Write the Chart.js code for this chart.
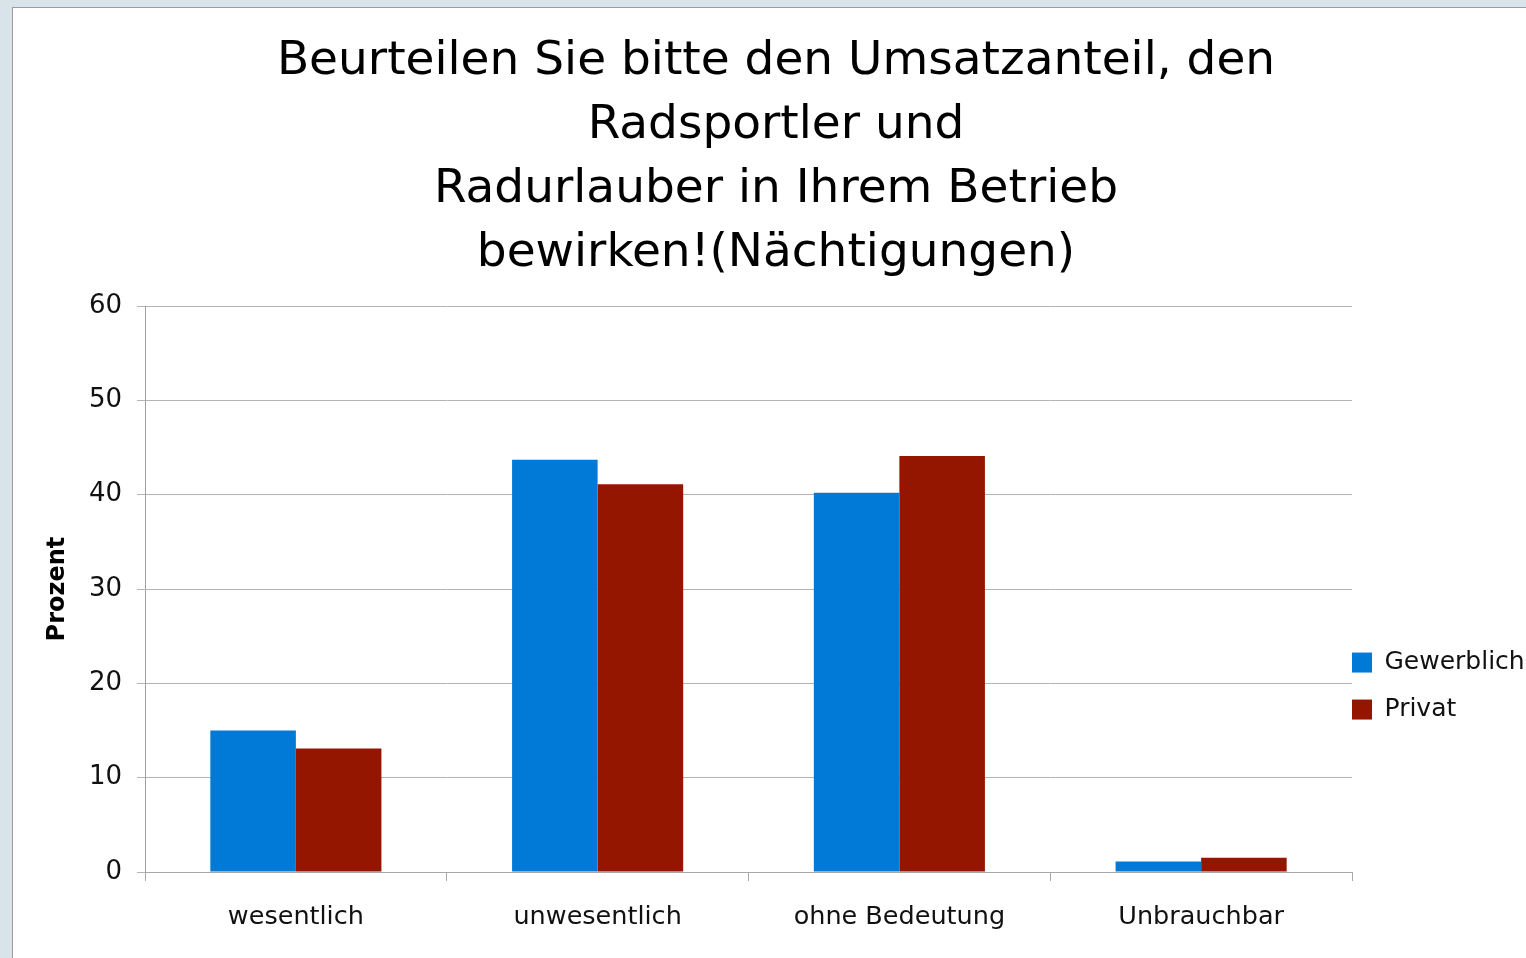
<!DOCTYPE html>
<html>
<head>
<meta charset="utf-8">
<script src="https://cdn.jsdelivr.net/npm/chart.js@4"></script>
<style>
  html, body { margin: 0; padding: 0; overflow: hidden; background: #d9e4ea; }
  body { width: 1526px; height: 958px; position: relative; }
  #panel {
    position: absolute; left: 12px; top: 7px; width: 1540px; height: 1000px;
    background: #fff; border: 1px solid #9c9c9c;
  }
  #chart { position: absolute; left: 0; top: 0; }
</style>
</head>
<body>
<div id="panel">
  <canvas id="chart" width="1526" height="990"></canvas>
</div>
<script>
// data
const categories = ["wesentlich", "unwesentlich", "ohne Bedeutung", "Unbrauchbar"];
const gewerblich = [15.0, 43.7, 40.2, 1.1];
const privat = [13.1, 41.1, 44.1, 1.5];
const titleLines = [
    "Beurteilen Sie bitte den Umsatzanteil, den",
    "Radsportler und",
    "Radurlauber in Ihrem Betrieb",
    "bewirken!(Nächtigungen)"
];

Chart.defaults.font.family = "'DejaVu Sans', 'Liberation Sans', sans-serif";
Chart.defaults.color = "#111";

// moves the legend down next to the plot, like the original
const legendPlace = {
    id: "legendPlace",
    afterLayout(chart) {
        const l = chart.legend;
        const area = chart.chartArea;
        const pad = l.options.labels.padding;
        l.left = area.right - pad;
        l.right = chart.width;
        l.width = l.right - l.left;
        l.top = area.top + 322;
        l.bottom = l.top + 2 * (25 + pad) + pad;
        l.height = l.bottom - l.top;
    }
};

const ctx = document.getElementById("chart").getContext("2d");
const chart = new Chart(ctx, {
    type: "bar",
    data: {
        labels: categories,
        datasets: [
            { label: "Gewerblich", data: gewerblich, backgroundColor: "#007ad6", borderWidth: 0 },
            { label: "Privat", data: privat, backgroundColor: "#941600", borderWidth: 0 }
        ]
    },
    options: {
        responsive: false,
        animation: false,
        layout: { padding: 0 },
        datasets: {
            bar: { categoryPercentage: 0.567, barPercentage: 1.0 }
        },
        plugins: {
            title: {
                display: true,
                text: titleLines,
                color: "#000",
                font: { size: 47, weight: "normal", lineHeight: 1.362 },
                padding: { top: 22, bottom: 20 }
            },
            legend: {
                position: "right",
                align: "start",
                maxWidth: 187,
                labels: {
                    font: { size: 25 },
                    color: "#111",
                    boxWidth: 20,
                    boxHeight: 20,
                    padding: 22
                }
            },
            tooltip: { enabled: false }
        },
        scales: {
            x: {
                grid: {
                    display: true,
                    offset: true,
                    drawOnChartArea: false,
                    drawTicks: true,
                    tickLength: 9,
                    color: "#a8a8a8"
                },
                border: { color: "#a8a8a8" },
                ticks: { font: { size: 25.5 }, padding: 21, color: "#111" },
                afterFit(scale) { scale.height = 126; }
            },
            y: {
                min: 0,
                max: 60,
                ticks: { stepSize: 10, font: { size: 26 }, padding: 15, color: "#111" },
                grid: { color: "#b4b4b4", tickLength: 8 },
                border: { color: "#a0a0a0" },
                title: {
                    display: true,
                    text: "Prozent",
                    color: "#000",
                    font: { size: 24, weight: "bold" },
                    padding: { top: 30, bottom: 0 }
                },
                afterFit(scale) { scale.width = 132; }
            }
        }
    },
    plugins: [legendPlace]
});
</script>
</body>
</html>
